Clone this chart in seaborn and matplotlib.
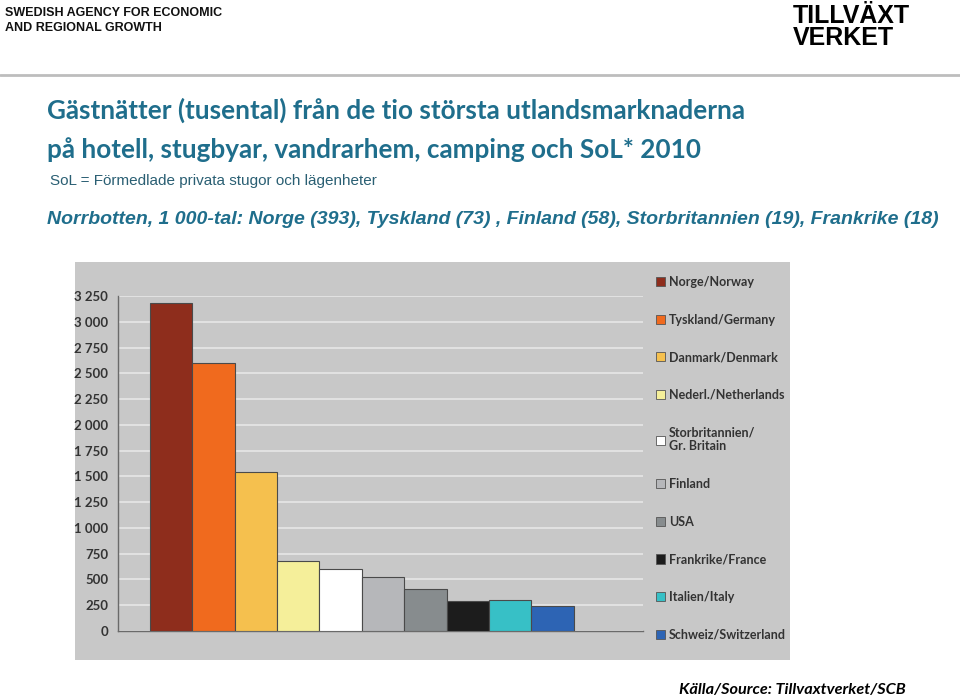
import matplotlib
matplotlib.use("Agg")
import matplotlib.pyplot as plt
import seaborn as sns
from matplotlib.patches import Rectangle
from matplotlib.lines import Line2D

# data (thousands of guest nights, 2010)
countries = ["Norge/Norway", "Tyskland/Germany", "Danmark/Denmark", "Nederl./Netherlands",
             "Storbritannien/\nGr. Britain", "Finland", "USA", "Frankrike/France",
             "Italien/Italy", "Schweiz/Switzerland"]
nights = [3180, 2600, 1540, 680, 600, 528, 411, 295, 298, 243]
bar_colors = ["#8E2D1C", "#F06A1E", "#F5C04E", "#F5EF9A", "#FFFFFF",
              "#B6B7BA", "#878C8E", "#1C1C1C", "#37C0C6", "#2D64B4"]
y_ticks = [0, 250, 500, 750, 1000, 1250, 1500, 1750, 2000, 2250, 2500, 2750, 3000, 3250]
y_tick_labels = ["0", "250", "500", "750", "1 000", "1 250", "1 500", "1 750",
                 "2 000", "2 250", "2 500", "2 750", "3 000", "3 250"]

sns.set_style("white")
plt.rcParams['font.family'] = ['Liberation Sans', 'DejaVu Sans']

W, H = 960, 700
fig = plt.figure(figsize=(9.6, 7), dpi=100)

def fx(px):
    return px / W

def fy(py):
    return 1 - py / H

# header
fig.text(fx(5), fy(13), "SWEDISH AGENCY FOR ECONOMIC", fontsize=9, fontweight="bold",
         va="center", ha="left", color="#111111")
fig.text(fx(5), fy(28), "AND REGIONAL GROWTH", fontsize=9, fontweight="bold",
         va="center", ha="left", color="#111111")
fig.text(fx(793), fy(16), "TILLVÄXT", fontsize=18, fontweight="bold", va="center",
         ha="left", color="black", fontstretch="condensed")
fig.text(fx(793), fy(38), "VERKET", fontsize=18, fontweight="bold", va="center",
         ha="left", color="black", fontstretch="condensed")
fig.add_artist(Line2D([0, 1], [fy(75), fy(75)], color="#BDBDBD", lw=2))

# titles
title_col = "#1F6E8C"
fig.text(fx(47), fy(110), "Gästnätter (tusental) från de tio största utlandsmarknaderna",
         fontsize=18.8, fontweight="bold", color=title_col, va="center", family=["Lato", "DejaVu Sans"])
fig.text(fx(47), fy(150), "på hotell, stugbyar, vandrarhem, camping och SoL* 2010",
         fontsize=18.8, fontweight="bold", color=title_col, va="center", family=["Lato", "DejaVu Sans"])
fig.text(fx(50), fy(181), "SoL = Förmedlade privata stugor och lägenheter",
         fontsize=11, color="#2A5F73", va="center")
fig.text(fx(47), fy(219), "Norrbotten, 1 000-tal: Norge (393), Tyskland (73) , Finland (58), "
         "Storbritannien (19), Frankrike (18)",
         fontsize=14, fontweight="bold", style="italic", color=title_col, va="center")

# grey chart panel
fig.add_artist(Rectangle((fx(75), fy(660)), fx(790 - 75), (660 - 262) / H,
                         facecolor="#C8C8C8", edgecolor="none", zorder=0))

ax = fig.add_axes([fx(118), fy(631), fx(643 - 118), (631 - 296) / H])
ax.set_facecolor("none")
sns.barplot(x=countries, y=nights, hue=countries, palette=bar_colors, width=1,
            saturation=1, edgecolor="#4A4A4A", linewidth=0.8, legend=False, ax=ax, zorder=3)

ax.set_xlim(-1.25, 11.13)
ax.set_ylim(0, 3250)
ax.set_yticks(y_ticks)
ax.set_yticklabels(y_tick_labels, fontsize=9.5, fontweight="bold", color="#333333",
                   family=["Lato", "DejaVu Sans"])
ax.set_xticks([])
ax.tick_params(axis="y", length=0, pad=7)
ax.yaxis.grid(True, color="#E4E4E4", lw=1.3, zorder=0)
ax.set_axisbelow(True)
for side in ["top", "right"]:
    ax.spines[side].set_visible(False)
for side in ["left", "bottom"]:
    ax.spines[side].set_color("#6A6A6A")
    ax.spines[side].set_linewidth(1)
ax.set_xlabel("")
ax.set_ylabel("")

# legend
handles = [Rectangle((0, 0), 1, 1, facecolor=c, edgecolor="#555555", lw=0.6) for c in bar_colors]
fig.legend(handles, countries, loc="upper left", bbox_to_anchor=(fx(651), fy(271)),
           frameon=False, handlelength=0.75, handleheight=0.75, handletextpad=0.3,
           labelspacing=2.05, borderaxespad=0,
           prop={"family": ["Lato", "DejaVu Sans"], "weight": "bold", "size": 9},
           labelcolor="#333333")

# source
fig.text(fx(906), fy(690), "Källa/Source: Tillvaxtverket/SCB", fontsize=11.7,
         fontweight="bold", style="italic", ha="right", va="center",
         family=["Lato", "DejaVu Sans"], color="black")

fig.savefig("out.png", dpi=100, facecolor="white")
